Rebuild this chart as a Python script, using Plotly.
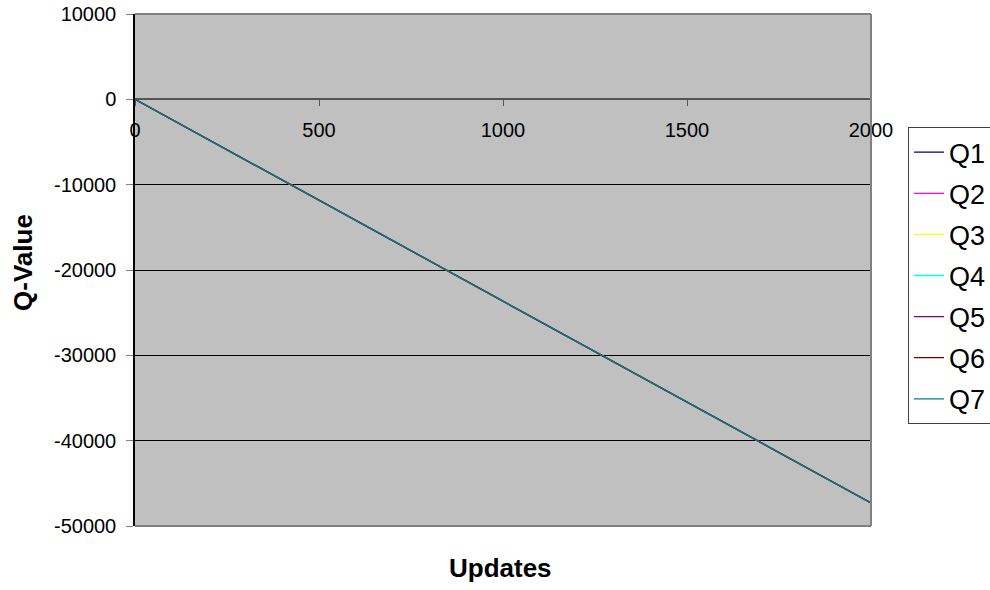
import plotly.graph_objects as go

# Q-value estimates after a number of updates
updates = [0, 250, 500, 750, 1000, 1250, 1500, 1750, 2000]
q1 = [0, -5900, -11820, -17740, -23650, -29560, -35480, -41390, -47300]
q2 = [0, -5910, -11820, -17740, -23650, -29570, -35480, -41390, -47300]
q3 = [0, -5910, -11830, -17740, -23650, -29570, -35480, -41400, -47300]
q4 = [0, -5910, -11820, -17740, -23650, -29570, -35480, -41390, -47300]
q5 = [0, -5910, -11820, -17740, -23650, -29560, -35480, -41390, -47300]
q6 = [0, -5910, -11820, -17740, -23650, -29570, -35480, -41390, -47300]
q7 = [0, -5910, -11820, -17740, -23650, -29570, -35480, -41390, -47300]

series_names = ["Q1", "Q2", "Q3", "Q4", "Q5", "Q6", "Q7"]
series_values = [q1, q2, q3, q4, q5, q6, q7]
series_colors = ["#000080", "#FF00FF", "#FFFF00", "#00FFFF", "#800080", "#800000", "#008080"]

y_ticks = [10000, 0, -10000, -20000, -30000, -40000, -50000]
x_ticks = [0, 500, 1000, 1500, 2000]

fig = go.Figure()
for name, vals, col in zip(series_names, series_values, series_colors):
    fig.add_trace(go.Scatter(x=updates, y=vals, name=name, legendgroup=name,
                             mode="lines", line=dict(color=col, width=1.3)))

border = dict(color="#808080", width=2)

fig.update_layout(
    width=990, height=590,
    margin=dict(l=135, r=119, t=14, b=64, autoexpand=False),
    paper_bgcolor="white",
    plot_bgcolor="#C0C0C0",
    font=dict(family="Arial, Liberation Sans, sans-serif", color="black"),
    showlegend=True,
    legend=dict(
        x=1.0503, y=0.779, xanchor="left", yanchor="top",
        bgcolor="white", bordercolor="#404040", borderwidth=1,
        font=dict(size=27), tracegroupgap=3, itemwidth=30,
    ),
    xaxis=dict(
        range=[0, 2000], tickvals=x_ticks, ticktext=[str(v) for v in x_ticks],
        anchor="free", position=50000 / 60000,
        showline=True, linecolor="#555555", linewidth=2,
        ticks="outside", ticklen=6, tickcolor="#555555",
        ticklabelstandoff=7,
        showgrid=False, zeroline=False, automargin=False,
        tickfont=dict(size=20),
    ),
    yaxis=dict(
        range=[-50000, 10000], tickvals=y_ticks, ticktext=[str(v) for v in y_ticks],
        showline=True, linecolor="black", linewidth=1.5,
        ticks="outside", ticklen=7, tickcolor="#808080",
        ticklabelstandoff=6,
        showgrid=True, gridcolor="black", gridwidth=1,
        zeroline=False, automargin=False, tickfont=dict(size=20),
    ),
    annotations=[
        dict(text="<b>Updates</b>", xref="paper", yref="paper", x=0.497, y=-0.082,
             xanchor="center", yanchor="middle", showarrow=False, font=dict(size=26)),
        dict(text="<b>Q-Value</b>", xref="paper", yref="paper", x=-0.152, y=0.514,
             xanchor="center", yanchor="middle", textangle=-90, showarrow=False,
             font=dict(size=26)),
    ],
    shapes=[
        dict(type="line", xref="paper", yref="paper", x0=0, x1=1, y0=1, y1=1,
             line=border, layer="above"),
        dict(type="line", xref="paper", yref="paper", x0=1, x1=1, y0=0, y1=1,
             line=border, layer="above"),
        dict(type="line", xref="paper", yref="paper", x0=0, x1=1, y0=0, y1=0,
             line=border, layer="above"),
    ],
)

fig.write_html("out.html")
